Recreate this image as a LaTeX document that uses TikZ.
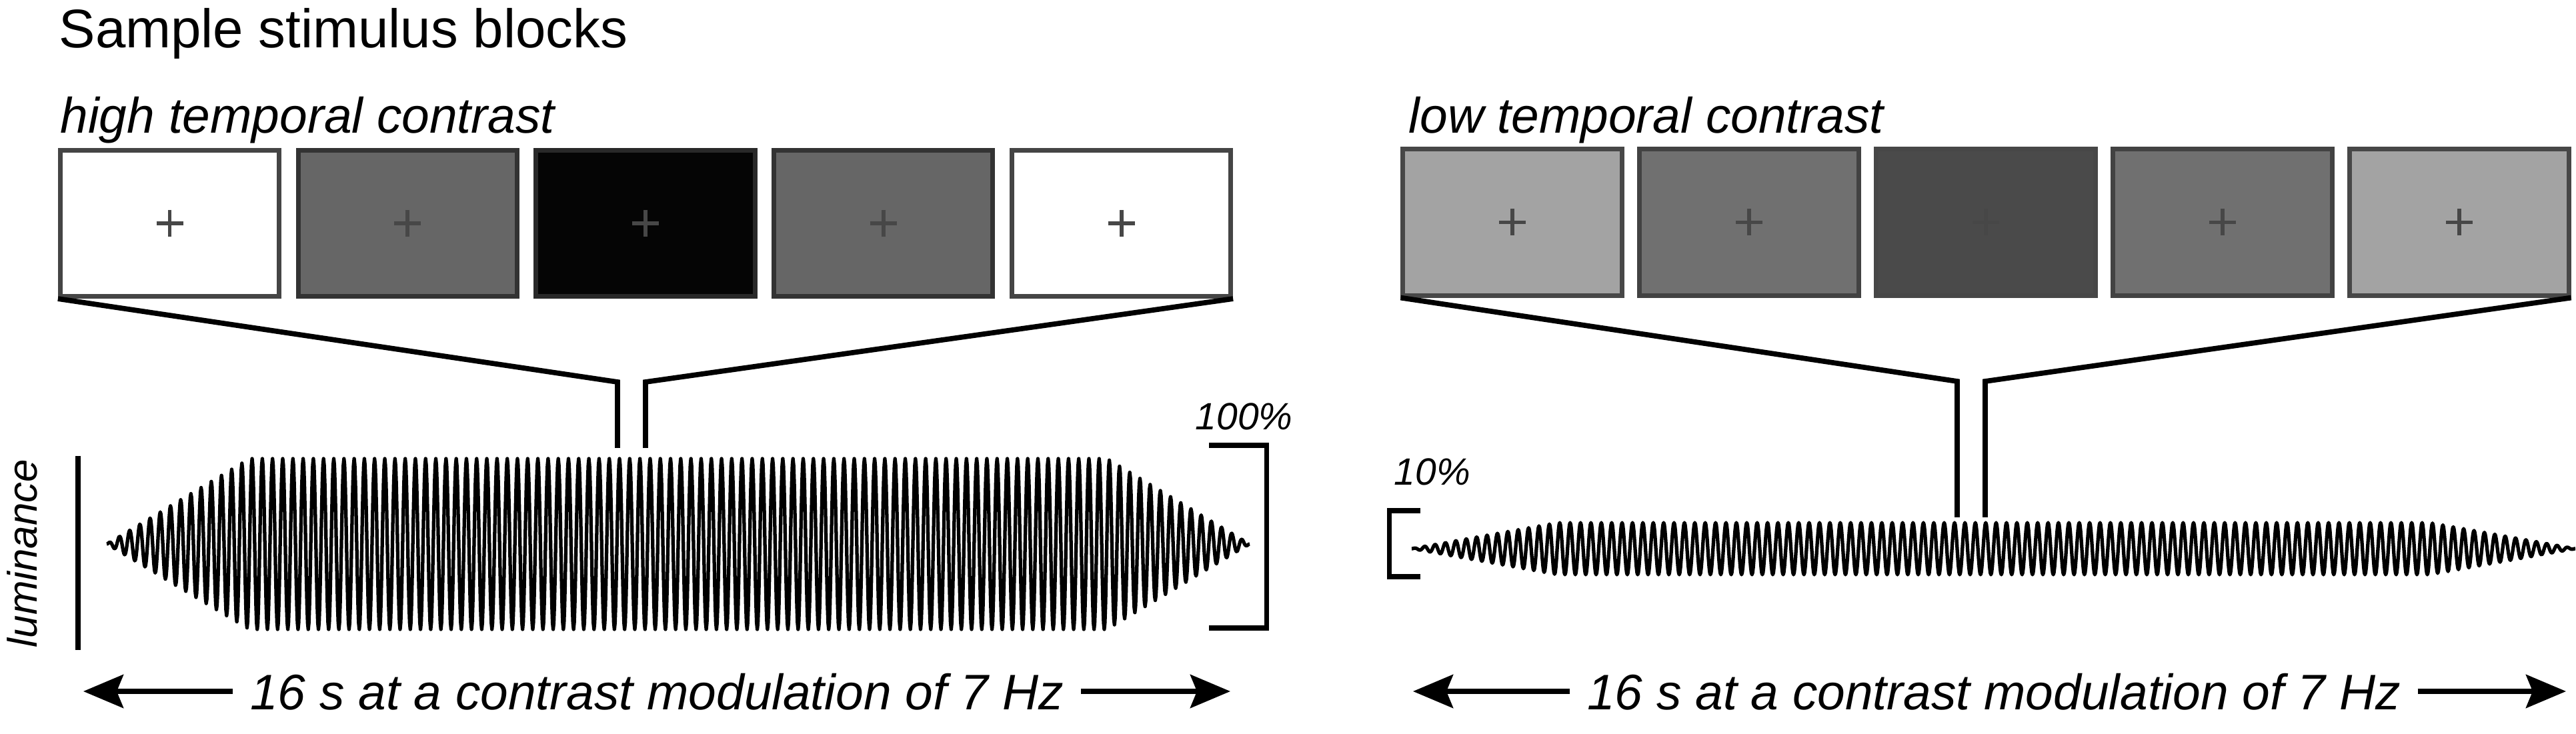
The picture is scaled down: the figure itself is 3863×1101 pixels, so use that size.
\documentclass[tikz,border=0pt]{standalone}
\usepackage{fontspec}
\setmainfont{Liberation Sans}
\usetikzlibrary{arrows.meta}

\begin{document}
\begin{tikzpicture}[x=0.01cm, y=-0.01cm,
  screen/.style={draw=#1, line width=2pt, minimum width=3.28cm, minimum height=2.19cm, inner sep=0pt},
  fixcross/.style={draw=black!72, line width=1.7pt},
  link/.style={line width=2.2pt},
  wave/.style={line width=1.5pt, line join=round},
  scalebar/.style={line width=2pt},
  timearrow/.style={-{Stealth[length=6mm, width=5mm, inset=1mm]}, line width=2pt},
  title/.style={font=\fontsize{23.2pt}{28pt}\selectfont, anchor=base west, inner sep=0pt},
  heading/.style={font=\fontsize{21.3pt}{26pt}\selectfont\itshape, anchor=base west, inner sep=0pt},
  duration/.style={font=\fontsize{21.3pt}{26pt}\selectfont\itshape, anchor=base, inner ysep=0pt, inner xsep=0.25cm},
  scalelabel/.style={font=\fontsize{16.2pt}{20pt}\selectfont\itshape, anchor=base west, inner sep=0pt},
]
\useasboundingbox (0,0) rectangle (3863,1101);

\node[title] (title) at (88,72) {Sample stimulus blocks};
\node[heading] (hilabel) at (90,200) {high temporal contrast};
\node[heading] (lolabel) at (2112,200) {low temporal contrast};

% stimulus frames
\foreach \f/\d [count=\i from 0] in {white/black!73, black!60/black!80, black!98/black!84, black!60/black!80, white/black!73}
  \node[screen=\d, fill=\f] (hi\i) at ({254.5+356.75*\i}, 335) {};
\foreach \f/\d [count=\i from 0] in {black!36/black!72, black!56/black!74, black!71/black!72, black!56/black!74, black!36/black!72}
  \node[screen=\d, fill=\f] (lo\i) at ({2268+355*\i}, 333.5) {};
\foreach \i in {0,...,4} {
  \draw[fixcross] (hi\i.center) +(-20,0) -- +(20,0) +(0,-20) -- +(0,20);
  \draw[fixcross] (lo\i.center) +(-20,0) -- +(20,0) +(0,-20) -- +(0,20);
}

% zoom lines
\coordinate (hibendL) at (926,573);
\coordinate (hiendL) at (926,672);
\coordinate (hibendR) at (968,573);
\coordinate (hiendR) at (968,672);
\draw[link] (hi0.south west) -- (hibendL) -- (hiendL);
\draw[link] (hi4.south east) -- (hibendR) -- (hiendR);
\coordinate (lobendL) at (2935,572);
\coordinate (loendL) at (2935,776);
\coordinate (lobendR) at (2977,572);
\coordinate (loendR) at (2977,776);
\draw[link] (lo0.south west) -- (lobendL) -- (loendL);
\draw[link] (lo4.south east) -- (lobendR) -- (loendR);

% luminance traces, 112 cycles each
\draw[wave] plot[domain=0:112, samples=1793, variable=\c]
  ({160+15.3036*\c}, {816-128*min(1,\c/14,(112-\c)/14)*sin(360*(\c-floor(\c)))});
\draw[wave] plot[domain=0:112, samples=1793, variable=\c]
  ({2117+15.5804*\c}, {823-39*min(1,\c/14,(112-\c)/14)*sin(360*(\c-floor(\c)))});

% scale bars
\coordinate (lumtop) at (117,684);
\coordinate (lumbot) at (117,975);
\draw[scalebar] (lumtop) -- (lumbot);
\node[font=\fontsize{17.6pt}{21pt}\selectfont\itshape, rotate=90, anchor=base, inner sep=0pt] (lumlabel) at (55,830) {luminance};
\coordinate (fulltop) at (1813,668);
\coordinate (fullbot) at (1813,942);
\draw[scalebar] (fulltop) -- ++(86,0) |- (fullbot);
\node[scalelabel] (fulllabel) at (1792,645) {100\%};
\coordinate (tentop) at (2130,766);
\coordinate (tenbot) at (2130,865);
\draw[scalebar] (tentop) -- ++(-47,0) |- (tenbot);
\node[scalelabel] (tenlabel) at (2090,728) {10\%};

% durations
\node[duration] (hidur) at (985,1065) {16 s at a contrast modulation of 7 Hz};
\coordinate (hitipL) at (125,1037);
\coordinate (hitipR) at (1845,1037);
\draw[timearrow] (hidur.west |- hitipL) -- (hitipL);
\draw[timearrow] (hidur.east |- hitipR) -- (hitipR);
\node[duration] (lodur) at (2990,1065) {16 s at a contrast modulation of 7 Hz};
\coordinate (lotipL) at (2119,1037);
\coordinate (lotipR) at (3848,1037);
\draw[timearrow] (lodur.west |- lotipL) -- (lotipL);
\draw[timearrow] (lodur.east |- lotipR) -- (lotipR);
\end{tikzpicture}
\end{document}
